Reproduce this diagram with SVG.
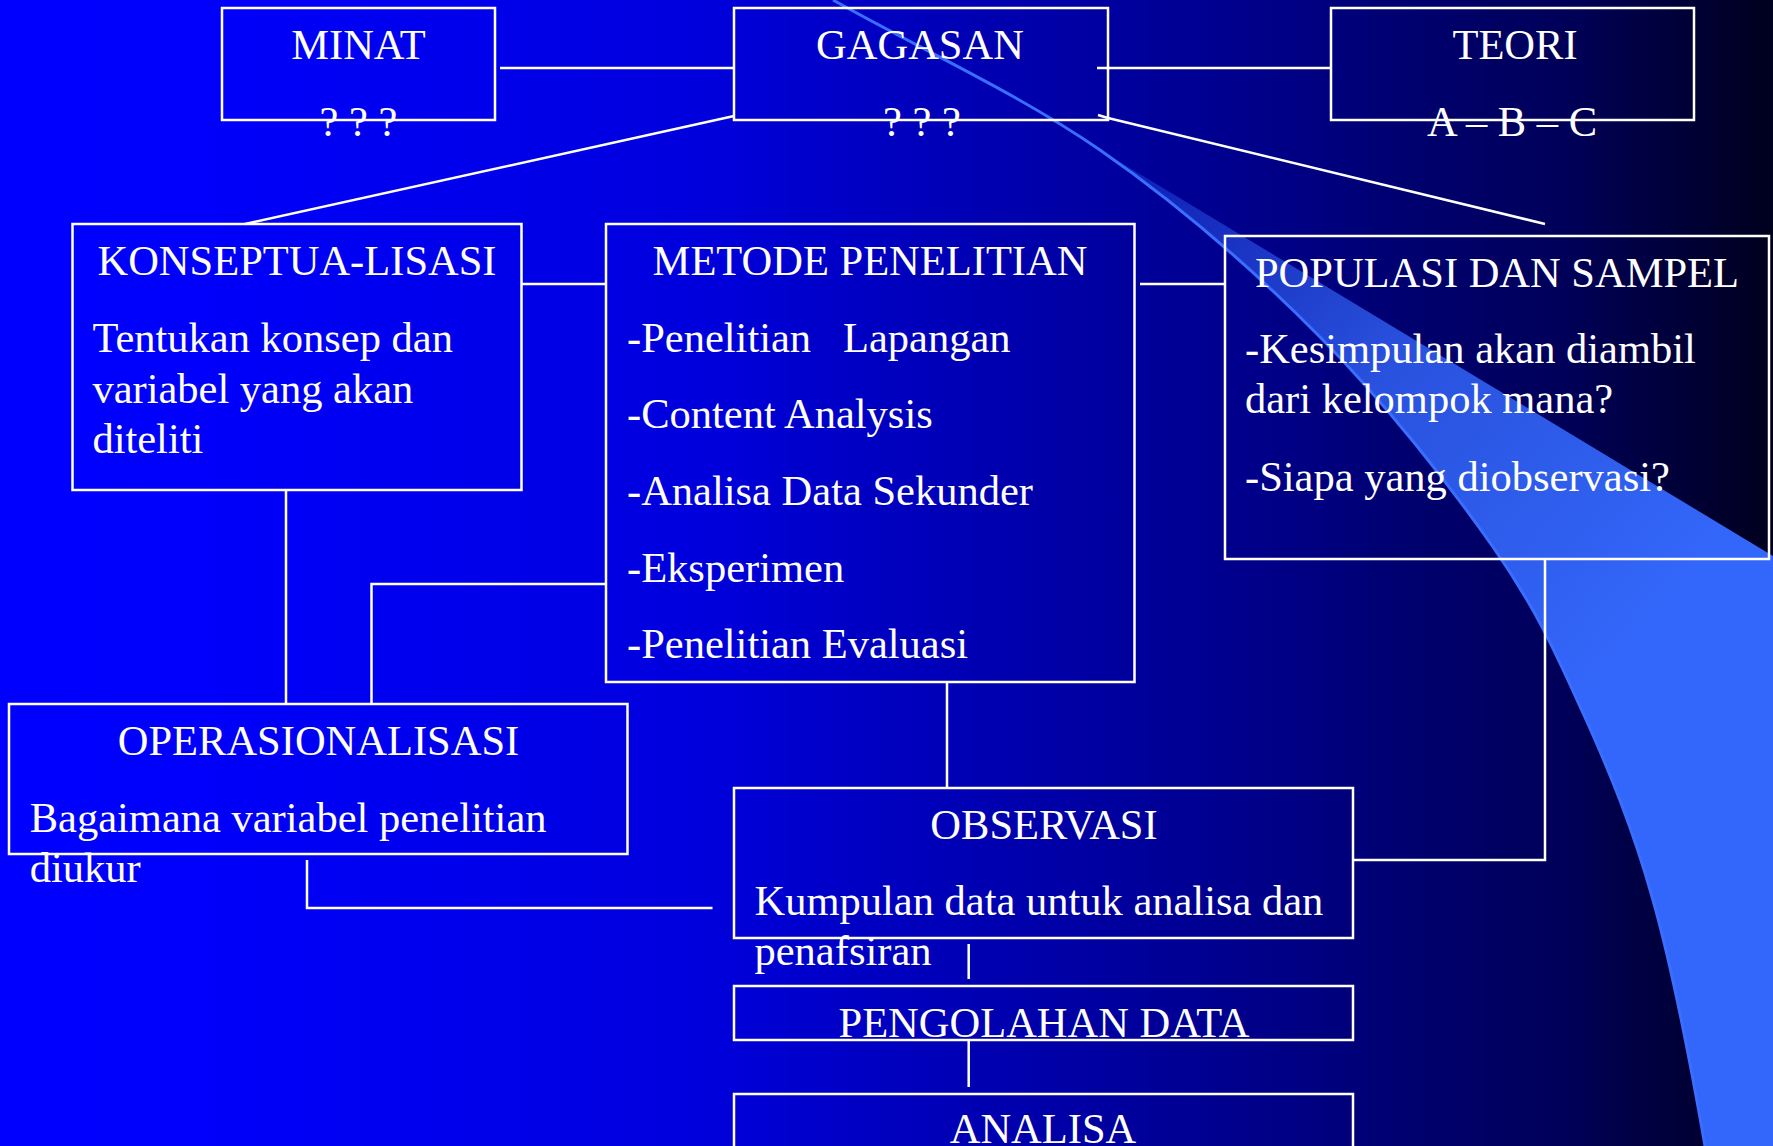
<svg xmlns="http://www.w3.org/2000/svg" width="1773" height="1146" viewBox="0 0 1773 1146">
<defs>
<linearGradient id="bg" x1="0" y1="0" x2="1773" y2="0" gradientUnits="userSpaceOnUse">
<stop offset="0" stop-color="#0000FF"/>
<stop offset="0.11" stop-color="#0000FC"/>
<stop offset="0.4" stop-color="#0000DC"/>
<stop offset="0.45" stop-color="#0000CD"/>
<stop offset="0.745" stop-color="#000080"/>
<stop offset="0.79" stop-color="#000070"/>
<stop offset="0.88" stop-color="#00005A"/>
<stop offset="0.95" stop-color="#000037"/>
<stop offset="1" stop-color="#00001E"/>
</linearGradient>
<linearGradient id="sw" x1="1100" y1="150" x2="1650" y2="620" gradientUnits="userSpaceOnUse">
<stop offset="0" stop-color="#3366FA" stop-opacity="0.25"/>
<stop offset="0.5" stop-color="#3366FA" stop-opacity="0.8"/>
<stop offset="1" stop-color="#3366FA" stop-opacity="1"/>
</linearGradient>
<style>
.box{fill:none;stroke:#FFFFFF;stroke-width:2.5}
.ln{fill:none;stroke:#FFFFFF;stroke-width:2.5}
text{fill:#FFFFFF;font-family:"Liberation Serif","Times New Roman",serif;font-size:42.5px}
.c{text-anchor:middle}
</style>
</defs>
<rect x="0" y="0" width="1773" height="1146" fill="url(#bg)"/>
<g id="swoosh">
<path d="M1100,150 L1773,556 L1773,1146 L1705,1146 C1690.5,1062.7 1673.3,972.2 1653,900 C1632.7,827.8 1609.7,771.8 1583,713 C1556.3,654.2 1536.8,609.7 1493,547 C1449.2,484.3 1385.5,403.2 1320,337 C1254.5,270.8 1181.2,206.2 1100,150 Z" fill="url(#sw)"/>
<path d="M833,0 C922,50 1018.8,93.8 1100,150 C1181.2,206.2 1254.5,270.8 1320,337 C1385.5,403.2 1449.2,484.3 1493,547 C1536.8,609.7 1556.3,654.2 1583,713 C1609.7,771.8 1632.7,827.8 1653,900 C1673.3,972.2 1690.5,1062.7 1705,1146" fill="none" stroke="#3A6EFF" stroke-width="3"/>
</g>
<g id="connectors">
<line class="ln" x1="500" y1="68" x2="734" y2="68"/>
<line class="ln" x1="1097" y1="68" x2="1331" y2="68"/>
<line class="ln" x1="734" y1="116" x2="245" y2="224"/>
<polyline class="ln" points="1098,115 1108,118 1545,224"/>
<line class="ln" x1="521" y1="284" x2="606" y2="284"/>
<line class="ln" x1="1140" y1="284" x2="1225" y2="284"/>
<line class="ln" x1="286" y1="490" x2="286" y2="704"/>
<polyline class="ln" points="606,584 371.5,584 371.5,704"/>
<line class="ln" x1="947" y1="682" x2="947" y2="788"/>
<polyline class="ln" points="1545,559 1545,860 1353,860"/>
<polyline class="ln" points="307,860 307,908 712.5,908"/>
<line class="ln" x1="968.7" y1="944" x2="968.7" y2="979"/>
<line class="ln" x1="968.7" y1="1040" x2="968.7" y2="1087"/>
</g>
<g id="minat">
<rect class="box" x="222" y="8" width="273" height="112"/>
<text class="c" x="358.5" y="59">MINAT</text>
<text class="c" x="358.5" y="136">? ? ?</text>
</g>
<g id="gagasan">
<rect class="box" x="734" y="8" width="374" height="112"/>
<text class="c" x="920" y="59">GAGASAN</text>
<text class="c" x="922" y="136">? ? ?</text>
</g>
<g id="teori">
<rect class="box" x="1331" y="8" width="363" height="112"/>
<text class="c" x="1515" y="59">TEORI</text>
<text class="c" x="1512" y="136">A – B – C</text>
</g>
<g id="konseptualisasi">
<rect class="box" x="72.5" y="224" width="449" height="266"/>
<text class="c" x="297" y="275">KONSEPTUA-LISASI</text>
<text x="92.4" y="352">Tentukan konsep dan</text>
<text x="92.4" y="403">variabel yang akan</text>
<text x="92.4" y="453">diteliti</text>
</g>
<g id="metode">
<rect class="box" x="606" y="224" width="528.5" height="458"/>
<text class="c" x="870" y="275">METODE PENELITIAN</text>
<text x="627" y="352">-Penelitian<tspan x="843">Lapangan</tspan></text>
<text x="627" y="428">-Content Analysis</text>
<text x="627" y="505">-Analisa Data Sekunder</text>
<text x="627" y="582">-Eksperimen</text>
<text x="627" y="658">-Penelitian Evaluasi</text>
</g>
<g id="populasi">
<rect class="box" x="1225" y="236" width="544" height="323"/>
<text class="c" x="1497" y="286.5">POPULASI DAN SAMPEL</text>
<text x="1245" y="363">-Kesimpulan akan diambil</text>
<text x="1245" y="413">dari kelompok mana?</text>
<text x="1245" y="491">-Siapa yang diobservasi?</text>
</g>
<g id="operasionalisasi">
<rect class="box" x="9" y="704" width="618.5" height="150"/>
<text class="c" x="318.5" y="755">OPERASIONALISASI</text>
<text x="29.7" y="832">Bagaimana variabel penelitian</text>
<text x="29.7" y="882">diukur</text>
</g>
<g id="observasi">
<rect class="box" x="734" y="788" width="619" height="150"/>
<text class="c" x="1044" y="839">OBSERVASI</text>
<text x="754.5" y="915">Kumpulan data untuk analisa dan</text>
<text x="754.5" y="965">penafsiran</text>
</g>
<g id="pengolahan">
<rect class="box" x="734" y="986" width="619" height="54"/>
<text class="c" x="1044" y="1037">PENGOLAHAN DATA</text>
</g>
<g id="analisa">
<rect class="box" x="734" y="1094" width="619" height="100"/>
<text class="c" x="1043" y="1143">ANALISA</text>
</g>
</svg>
